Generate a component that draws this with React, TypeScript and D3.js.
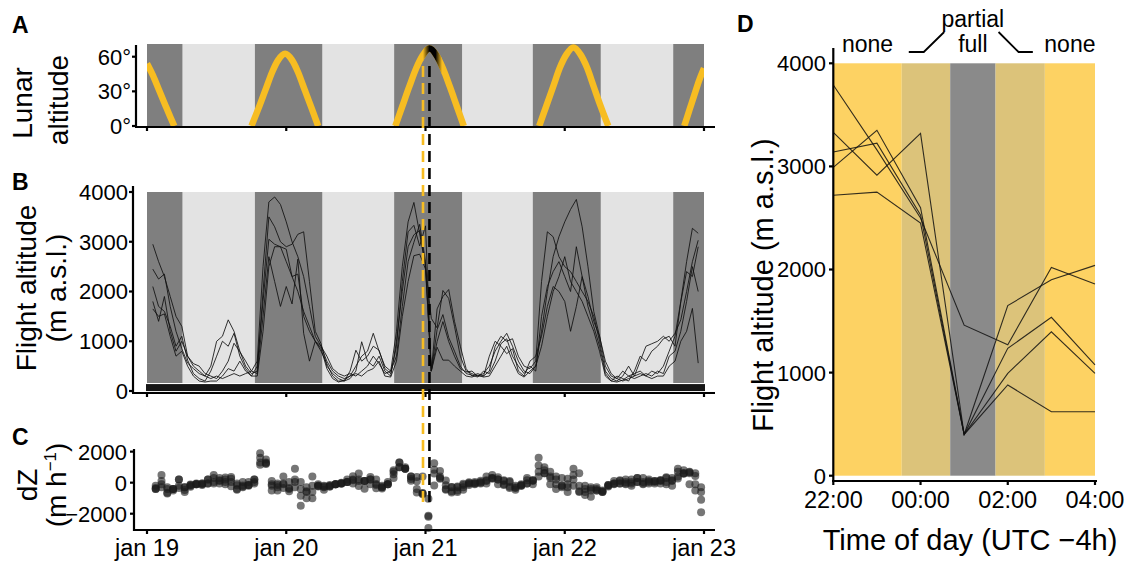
import React from 'react';
import * as d3 from 'd3';

const FONT = "'Liberation Sans', Arial, Helvetica, sans-serif";

// ---------- shared time info (hours since jan 19 00:00, UTC-4) ----------
const NIGHTS: [number, number][] = [[0, 6.1], [18.6, 30.2], [42.6, 54.3], [66.5, 78.2], [90.7, 96]];
const DAY_TICKS = [0, 24, 48, 72, 96];
const DAY_LABELS = ['jan 19', 'jan 20', 'jan 21', 'jan 22', 'jan 23'];
// eclipse phases, hours since jan 20 00:00: partial start, total start, total end, partial end
const ECLIPSE = [23.57, 24.68, 25.72, 26.85];

// ---------- panel A: lunar altitude (hour, degrees) ----------
const MOON_1: [number, number][] = [[0, 54], [1, 44], [2, 32], [3, 20], [4, 8], [4.7, 0]];
const MOON_2: [number, number][] = [[18.0, 0], [19.2, 15], [20.4, 31], [21.6, 47], [22.6, 57], [23.8, 62.5], [25.0, 57], [26.0, 47], [27.2, 31], [28.4, 15], [29.5, 0]];
const MOON_3: [number, number][] = [[42.8, 0], [44.0, 17], [45.2, 34], [46.4, 50], [47.5, 61], [48.7, 67], [49.9, 61], [51.0, 50], [52.2, 34], [53.4, 17], [54.6, 0]];
const MOON_4: [number, number][] = [[67.6, 0], [68.8, 17], [70.0, 34], [71.2, 51], [72.3, 62], [73.5, 68], [74.7, 62], [75.8, 51], [77.0, 34], [78.2, 17], [79.5, 0]];
const MOON_5: [number, number][] = [[92.6, 0], [93.5, 14], [94.4, 28], [95.2, 40], [96, 50]];
const MOON_TRACKS = [MOON_1, MOON_2, MOON_3, MOON_4, MOON_5];
const A_TICKS = [0, 30, 60];

// ---------- panel B: flight altitude, hourly h = 1..95 ----------
const B_HOURS = d3.range(1, 96);
const ALT_1 = [2950, 2600, 2300, 1900, 1500, 1300,
  700, 500, 400, 300, 250, 300, 250, 300, 350, 300, 350, 400,
  600, 2500, 3800, 3900, 3750, 3400, 3000, 2700, 2300, 1700, 1100, 900,
  600, 400, 300, 250, 300, 500, 700, 800, 1160, 800, 500, 400,
  1200, 2500, 3400, 3790, 3160, 2500, 1460, 1270, 2020, 1860, 1300, 700,
  400, 350, 300, 350, 500, 800, 1000, 1160, 900, 600, 400, 350,
  500, 1200, 2000, 2700, 3100, 3400, 3650, 3850, 3300, 2500, 1600, 1100,
  500, 300, 250, 200, 250, 300, 350, 300, 400, 350, 500, 800,
  1100, 1800, 2600, 3270, 3170];
const ALT_2 = [2450, 2250, 2350, 1700, 1200, 850,
  560, 450, 350, 300, 500, 1000, 1100, 1430, 1200, 800, 500, 350,
  400, 2000, 3500, 3300, 3000, 2900, 2950, 3150, 3200, 2200, 1200, 950,
  500, 350, 250, 200, 400, 820, 600, 700, 900, 820, 450, 350,
  900, 2200, 3200, 3330, 2915, 3320, 400, 1650, 1900, 2040, 1400, 900,
  450, 300, 350, 300, 400, 900, 1100, 1000, 1050, 700, 500, 450,
  600, 2200, 3200, 3100, 2700, 2500, 2400, 2200, 2000, 1800, 1500, 1000,
  400, 250, 200, 300, 500, 300, 600, 900, 950, 1000, 1100, 1000,
  1160, 1430, 2000, 2600, 3030];
const ALT_3 = [2100, 1700, 1600, 1300, 900, 1100,
  620, 350, 250, 200, 400, 700, 1000, 900, 1160, 700, 450, 300,
  500, 1800, 3050, 2950, 2900, 2850, 2300, 2350, 1500, 1200, 1000, 800,
  550, 300, 200, 200, 250, 400, 990, 600, 500, 700, 400, 300,
  1000, 2000, 2900, 3140, 3225, 2530, 400, 1235, 1536, 1075, 800, 500,
  350, 320, 280, 400, 350, 600, 950, 1050, 700, 500, 350, 500,
  400, 1500, 2100, 2400, 2600, 2300, 2000, 2900, 2300, 1700, 1300, 900,
  350, 200, 300, 250, 200, 400, 700, 600, 800, 900, 1050, 1100,
  900, 1790, 2400, 2300, 2900];
const ALT_4 = [1800, 1400, 1900, 1200, 800, 1000,
  700, 550, 500, 350, 300, 250, 400, 600, 960, 790, 600, 400,
  350, 1500, 2700, 2200, 1700, 2100, 1750, 2650, 1160, 600, 1000, 900,
  700, 450, 350, 300, 350, 300, 400, 500, 700, 550, 350, 400,
  700, 1700, 2600, 2990, 3350, 2600, 400, 993, 1395, 993, 700, 450,
  380, 400, 300, 300, 700, 1000, 900, 750, 850, 400, 300, 600,
  700, 1100, 1700, 2100, 2000, 1800, 1200, 1700, 2300, 1900, 1400, 1100,
  600, 350, 250, 400, 300, 250, 300, 350, 300, 400, 350, 700,
  800, 1200, 1800, 2500, 2000];
const ALT_5 = [1650, 1500, 1550, 1100, 700, 800,
  500, 300, 200, 180, 200, 200, 300, 450, 400, 600, 400, 300,
  300, 1200, 2500, 2900, 2900, 2600, 2300, 2000, 1600, 1300, 1000, 850,
  450, 250, 180, 220, 300, 350, 300, 400, 450, 600, 300, 280,
  600, 1500, 2200, 2720, 2750, 2450, 400, 880, 620, 620, 500, 400,
  300, 280, 320, 280, 300, 500, 700, 900, 600, 350, 280, 400,
  500, 900, 1500, 2000, 2300, 2700, 2200, 2000, 1800, 1500, 1200, 800,
  300, 200, 180, 220, 300, 350, 400, 300, 250, 300, 300, 500,
  600, 1000, 1200, 1660, 560];
const ALT_TRACKS = [ALT_1, ALT_2, ALT_3, ALT_4, ALT_5];
const B_TICKS = [0, 1000, 2000, 3000, 4000];
const GROUND = [150, 300]; // ground band (m)

// ---------- panel C: vertical speed dZ (m/h), h = 1.5..95.5 ----------
const C_HOURS = d3.range(1.5, 96, 1);
const DZ_1 = [-350, -300, -400, -400, -200, -600,
  -200, -100, -100, -50, 50, -50, 50, 50, -50, 50, 50, 200,
  1900, 1300, 100, -150, -350, -400, -300, -400, -600, -600, -200, -300,
  -200, -100, -50, 50, 200, 200, 100, 360, -360, -300, -100, 800,
  1300, 900, 390, -630, -660, -1040, -190, 750, -160, -560, -600, -300,
  -50, -50, 50, 150, 300, 200, 160, -260, -300, -200, -50, 150,
  700, 800, 700, 400, 300, 250, 200, -550, -800, -900, -500, -600,
  -200, -50, -50, 50, 50, 50, -50, 100, -50, 150, 300, 300,
  700, 800, 670, -100, -300];
const DZ_2 = [-200, 100, -650, -500, -350, -290,
  -110, -100, -50, 200, 500, 100, 330, -230, -400, -300, -150, 50,
  1600, 1500, -200, -300, -100, 50, 200, 50, -1000, -1000, -250, -450,
  -150, -100, -50, 200, 420, -220, 100, 200, -80, -370, -100, 550,
  1300, 1000, 130, -415, 405, -2920, 1250, 250, 140, -640, -500, -450,
  -150, 50, -50, 100, 500, 200, -100, 50, -350, -200, -50, 150,
  1600, 1000, -100, -400, -200, -100, -200, -200, -200, -300, -500, -600,
  -150, -50, 100, 200, -200, 300, 300, 50, 50, 100, -100, 160,
  270, 570, 600, 430, -1900];
const DZ_3 = [-400, -100, -300, -400, 200, -480,
  -270, -100, -50, 200, 300, 300, -100, 260, -460, -250, -150, 200,
  1300, 1250, -100, -50, -50, -550, 50, -850, -300, -200, -200, -250,
  -250, -100, 0, 50, 150, 590, -390, -100, 200, -300, -100, 700,
  1000, 900, 240, 85, -695, -2130, 835, 300, -460, -275, -300, -150,
  -30, -40, 120, -50, 250, 350, 100, -350, -200, -150, 150, -100,
  1100, 600, 300, 200, -300, -300, 900, -600, -600, -400, -400, -550,
  -150, 100, -50, -50, 200, 300, -100, 200, 100, 150, 50, -200,
  890, 610, -100, 600, -600];
const DZ_4 = [-400, 500, -700, -400, 200, -300,
  -150, -50, -150, -50, -50, 150, 200, 360, -170, -190, -200, -50,
  1150, 1200, -500, -500, 400, -350, 900, -1490, -560, 400, -100, -200,
  -250, -100, -50, 50, -50, 100, 100, 200, -150, -200, 50, 300,
  1000, 900, 390, 360, -750, -2200, 593, 402, -402, -293, -250, -70,
  20, -100, 0, 400, 300, -100, -150, 100, -450, -100, 300, 100,
  400, 600, 400, -100, -200, -600, 500, 600, -400, -500, -300, -500,
  -250, -100, 150, -100, -50, 50, 50, -50, 100, -50, 350, 100,
  400, 600, 700, -500, -1100];
const DZ_TRACKS = [DZ_1, DZ_2, DZ_3, DZ_4];
const C_TICKS = [-2000, 0, 2000];

// ---------- panel D: eclipse night, hourly 22:00 .. 04:00 ----------
const D_HOURS = [22, 23, 24, 25, 26, 27, 28];
const D_TICKS = [22, 24, 26, 28];
const D_TICK_LABELS = ['22:00', '00:00', '02:00', '04:00'];
const D_ALT_1 = [3790, 3160, 2500, 1460, 1270, 2020, 1860];
const D_ALT_2 = [3330, 2915, 3320, 400, 1650, 1900, 2040];
const D_ALT_3 = [3140, 3225, 2530, 400, 1235, 1536, 1075];
const D_ALT_4 = [2990, 3350, 2600, 400, 993, 1395, 993];
const D_ALT_5 = [2720, 2750, 2450, 400, 880, 620, 620];
const D_TRACKS = [D_ALT_1, D_ALT_2, D_ALT_3, D_ALT_4, D_ALT_5];
const D_Y_TICKS = [0, 1000, 2000, 3000, 4000];

const NIGHT = '#7f7f7f';
const DAY = '#e3e3e3';
const MOON = '#f7bd22';
const NO_ECL = '#fdd263';
const PARTIAL = '#dcc37a';
const TOTAL = '#8a8a8a';

export default function App() {
  const W = 1127, H = 561;
  const x = d3.scaleLinear().domain([0, 96]).range([147, 704]);
  const yA = d3.scaleLinear().domain([0, 71]).range([126, 44]);
  const yB = d3.scaleLinear().domain([0, 4000]).range([391, 192]);
  const yC = d3.scaleLinear().domain([-3050, 2170]).range([530, 449]);
  const xD = d3.scaleLinear().domain([22, 28]).range([833.3, 1095]);
  const yD = d3.scaleLinear().domain([0, 4000]).range([475.7, 63.3]);

  const moonLine = d3.line<[number, number]>().x(d => x(d[0])).y(d => yA(d[1])).curve(d3.curveMonotoneX);
  const bLine = d3.line<number>().x((_, i) => x(B_HOURS[i])).y(d => yB(d));
  const dLine = d3.line<number>().x((_, i) => xD(D_HOURS[i])).y(d => yD(d));

  const ecl = ECLIPSE.map(e => e + 24);
  const eclX = ecl.map(e => x(e));
  const f1 = (ecl[1] - ecl[0]) / (ecl[3] - ecl[0]);
  const f2 = (ecl[2] - ecl[0]) / (ecl[3] - ecl[0]);

  const axisW = 2.2;
  const tickFont = 22;
  const xTickFont = 23.5;
  const titleFont = 28;

  const bands = [
    [22, ECLIPSE[0], NO_ECL], [ECLIPSE[0], ECLIPSE[1], PARTIAL], [ECLIPSE[1], ECLIPSE[2], TOTAL],
    [ECLIPSE[2], ECLIPSE[3], PARTIAL], [ECLIPSE[3], 28, NO_ECL],
  ] as [number, number, string][];

  const shading = (top: number, bottom: number, key: string) => (
    <g key={key}>
      <rect x={x(0)} y={top} width={x(96) - x(0)} height={bottom - top} fill={DAY} />
      {NIGHTS.map((n, i) => (
        <rect key={i} x={x(n[0])} y={top} width={x(n[1]) - x(n[0])} height={bottom - top} fill={NIGHT} />
      ))}
    </g>
  );

  const xTicks = (yAxis: number, labels: boolean) => (
    <g>
      {DAY_TICKS.map((t, i) => (
        <g key={i}>
          <line x1={x(t)} x2={x(t)} y1={yAxis} y2={yAxis + 4} stroke="#000" strokeWidth={axisW} />
          {labels && (
            <text x={x(t)} y={yAxis + 26} textAnchor="middle" fontSize={xTickFont} fontFamily={FONT}>{DAY_LABELS[i]}</text>
          )}
        </g>
      ))}
    </g>
  );

  const la = xD(ECLIPSE[0]), lb = xD(ECLIPSE[1]), rc = xD(ECLIPSE[2]), rd = xD(ECLIPSE[3]);

  return (
    <svg width={W} height={H} style={{ position: 'absolute', left: 0, top: 0, background: '#fff' }} fontFamily={FONT}>
      <defs>
        <linearGradient id="eclGrad" gradientUnits="userSpaceOnUse" x1={eclX[0]} x2={eclX[3]} y1={0} y2={0}>
          <stop offset="0" stopColor={MOON} />
          <stop offset={f1} stopColor="#000" />
          <stop offset={f2} stopColor="#000" />
          <stop offset="1" stopColor={MOON} />
        </linearGradient>
        <clipPath id="clipA"><rect x={x(0)} y={38} width={x(96) - x(0)} height={126 - 38} /></clipPath>
        <clipPath id="clipEcl"><rect x={eclX[0]} y={38} width={eclX[3] - eclX[0]} height={126 - 38} /></clipPath>
      </defs>

      {/* ---------------- Panel A ---------------- */}
      {shading(44, 126, 'shA')}
      <g clipPath="url(#clipA)">
        {MOON_TRACKS.map((m, i) => (
          <path key={i} d={moonLine(m) || ''} fill="none" stroke={MOON} strokeWidth={6.5} />
        ))}
        <g clipPath="url(#clipEcl)">
          <path d={moonLine(MOON_3) || ''} fill="none" stroke="url(#eclGrad)" strokeWidth={6.5} />
        </g>
      </g>
      <line x1={136} x2={136} y1={45} y2={127} stroke="#000" strokeWidth={axisW} />
      <line x1={135} x2={715} y1={127} y2={127} stroke="#000" strokeWidth={axisW} />
      {A_TICKS.map(t => (
        <g key={t}>
          <line x1={132} x2={136} y1={yA(t)} y2={yA(t)} stroke="#000" strokeWidth={axisW} />
          <text x={131} y={yA(t)} dy="0.36em" textAnchor="end" fontSize={tickFont}>{t}°</text>
        </g>
      ))}
      {xTicks(127, false)}
      <text transform={`translate(32,103) rotate(-90)`} textAnchor="middle" fontSize={titleFont}>Lunar</text>
      <text transform={`translate(68,100) rotate(-90)`} textAnchor="middle" fontSize={titleFont}>altitude</text>
      <text x={12} y={33} fontSize={23} fontWeight="bold">A</text>

      {/* ---------------- Panel B ---------------- */}
      {shading(192, 383, 'shB')}
      {ALT_TRACKS.map((t, i) => (
        <path key={i} d={bLine(t) || ''} fill="none" stroke="#111" strokeOpacity={0.85} strokeWidth={1} />
      ))}
      <rect x={146} y={yB(GROUND[1]) + 8} width={705 - 146} height={7} fill="#161616" />
      <line x1={133} x2={133} y1={186} y2={393} stroke="#000" strokeWidth={axisW} />
      <line x1={132} x2={715} y1={393} y2={393} stroke="#000" strokeWidth={axisW} />
      {B_TICKS.map(t => (
        <g key={t}>
          <line x1={129} x2={133} y1={yB(t)} y2={yB(t)} stroke="#000" strokeWidth={axisW} />
          <text x={128} y={yB(t)} dy="0.36em" textAnchor="end" fontSize={tickFont}>{t}</text>
        </g>
      ))}
      {xTicks(393, false)}
      <text transform={`translate(36,288) rotate(-90)`} textAnchor="middle" fontSize={titleFont}>Flight altitude</text>
      <text transform={`translate(66,288) rotate(-90)`} textAnchor="middle" fontSize={titleFont}>(m a.s.l.)</text>
      <text x={12} y={190} fontSize={23} fontWeight="bold">B</text>

      {/* ---------------- Panel C ---------------- */}
      {DZ_TRACKS.map((t, k) => (
        <g key={k}>
          {t.map((v, i) => (
            <circle key={i} cx={x(C_HOURS[i])} cy={yC(v)} r={4} fill="#1a1a1a" fillOpacity={0.6} />
          ))}
        </g>
      ))}
      <line x1={134} x2={134} y1={449} y2={531} stroke="#000" strokeWidth={axisW} />
      <line x1={133} x2={715} y1={530} y2={530} stroke="#000" strokeWidth={axisW} />
      {C_TICKS.map(t => (
        <g key={t}>
          <line x1={130} x2={134} y1={yC(t)} y2={yC(t)} stroke="#000" strokeWidth={axisW} />
          <text x={127} y={yC(t)} dy="0.36em" textAnchor="end" fontSize={tickFont}>{t < 0 ? '−' + Math.abs(t) : t}</text>
        </g>
      ))}
      {xTicks(530, true)}
      <text transform={`translate(37,485) rotate(-90)`} textAnchor="middle" fontSize={titleFont}>dZ</text>
      <text transform={`translate(66,485) rotate(-90)`} textAnchor="middle" fontSize={titleFont}>
        <tspan>(m h</tspan><tspan dy={-10} fontSize={17}>−1</tspan><tspan dy={10}>)</tspan>
      </text>
      <text x={12} y={445} fontSize={23} fontWeight="bold">C</text>

      {/* eclipse markers across A-C */}
      <line x1={eclX[0]} x2={eclX[0]} y1={66} y2={503} stroke={MOON} strokeWidth={2.6} strokeDasharray="11,6" />
      <line x1={eclX[1]} x2={eclX[1]} y1={66} y2={503} stroke="#000" strokeWidth={2.6} strokeDasharray="11,6" />

      {/* ---------------- Panel D ---------------- */}
      {bands.map((b, i) => (
        <rect key={i} x={xD(b[0])} y={yD(4000)} width={xD(b[1]) - xD(b[0])} height={yD(0) - yD(4000)} fill={b[2]} />
      ))}
      {D_TRACKS.map((t, i) => (
        <path key={i} d={dLine(t) || ''} fill="none" stroke="#111" strokeOpacity={0.85} strokeWidth={1.1} />
      ))}
      <line x1={833.3} x2={833.3} y1={48} y2={481} stroke="#000" strokeWidth={axisW} />
      <line x1={832} x2={1097} y1={481} y2={481} stroke="#000" strokeWidth={axisW} />
      {D_Y_TICKS.map(t => (
        <g key={t}>
          <line x1={829} x2={833.3} y1={yD(t)} y2={yD(t)} stroke="#000" strokeWidth={axisW} />
          <text x={826} y={yD(t)} dy="0.36em" textAnchor="end" fontSize={tickFont}>{t}</text>
        </g>
      ))}
      {D_TICKS.map((t, i) => (
        <g key={t}>
          <line x1={xD(t)} x2={xD(t)} y1={481} y2={485} stroke="#000" strokeWidth={axisW} />
          <text x={xD(t)} y={508} textAnchor="middle" fontSize={xTickFont}>{D_TICK_LABELS[i]}</text>
        </g>
      ))}
      <text x={970} y={550} textAnchor="middle" fontSize={29}>Time of day (UTC −4h)</text>
      <text transform={`translate(773,285) rotate(-90)`} textAnchor="middle" fontSize={29}>Flight altitude (m a.s.l.)</text>
      <text x={737} y={32} fontSize={23} fontWeight="bold">D</text>

      <text x={(xD(22) + la) / 2} y={52} textAnchor="middle" fontSize={23}>none</text>
      <text x={(lb + rc) / 2} y={27} textAnchor="middle" fontSize={23}>partial</text>
      <text x={(lb + rc) / 2} y={52} textAnchor="middle" fontSize={23}>full</text>
      <text x={(rd + xD(28)) / 2} y={52} textAnchor="middle" fontSize={23}>none</text>
      <polyline points={`${la + 7},52 ${la + 22},52 ${lb - 6},32`} fill="none" stroke="#000" strokeWidth={1.8} />
      <polyline points={`${rc + 3},32 ${rc + 23},52 ${rd - 12},52`} fill="none" stroke="#000" strokeWidth={1.8} />
    </svg>
  );
}
